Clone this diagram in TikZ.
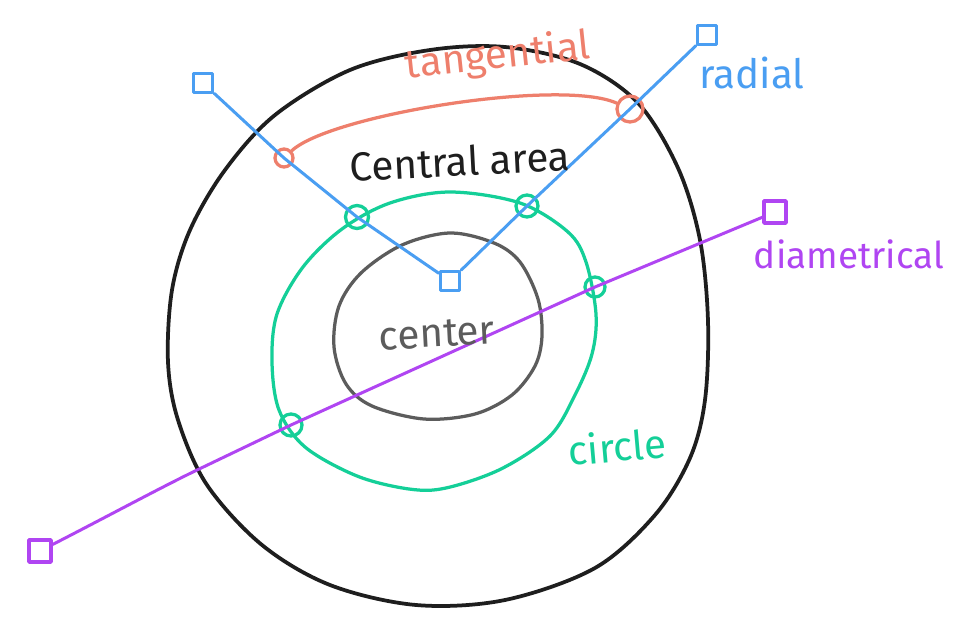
\documentclass[tikz,border=0pt]{standalone}
\usepackage{fontspec}
\setmainfont{Fira Sans}
\usepackage{tikz}
\usetikzlibrary{positioning}

\definecolor{inkblack}{HTML}{1E1E1E}
\definecolor{inkgray}{HTML}{5C5C5C}
\definecolor{inkblue}{HTML}{4A9EF2}
\definecolor{inksalmon}{HTML}{EE7F6C}
\definecolor{inkgreen}{HTML}{14CF98}
\definecolor{inkpurple}{HTML}{B045F2}

\tikzset{
  label text/.style={font=\fontsize{23}{27}\selectfont, inner sep=0pt},
  end box/.style={draw, rectangle, line width=0.7mm, minimum size=3.8mm, inner sep=0pt},
  cross mark/.style={draw, circle, line width=0.65mm, inner sep=0pt},
}

\begin{document}
\begin{tikzpicture}[x=0.2mm, y=-0.2mm, line cap=round, line join=round]
\useasboundingbox[fill=white] (0,0) rectangle (978,636);

% outer boundary
\draw[inkblack, line width=0.75mm] plot[smooth cycle, tension=0.55] coordinates {
  (505,47) (580,64) (638,103) (678,168) (700,240) (708,321) (705,400)
  (690,458) (655,515) (595,568) (505,600) (416,605) (330,585) (262,545)
  (207,485) (178,420) (168,362) (172,290) (190,230) (225,170) (275,115)
  (350,70) (430,50)};

% circle
\draw[inkgreen, line width=0.65mm] plot[smooth cycle, tension=0.55] coordinates {
  (450,192) (520,203) (568,232) (586,262) (596,314) (592,354) (575,395)
  (550,436) (501,469) (446,488) (409,489) (357,476) (305,447) (279,410)
  (272,362) (277,314) (303,267) (342,229) (390,203)};

% center
\draw[inkgray, line width=0.65mm] plot[smooth cycle, tension=0.55] coordinates {
  (450,233) (494,243) (520,262) (538,299) (542,336) (535,366) (512,395)
  (475,414) (424,419) (372,406) (346,384) (334,347) (339,306) (361,273)
  (402,245)};

% end boxes
\node[end box, inkblue] (sqL) at (203,83) {};
\node[end box, inkblue] (sqC) at (450,281) {};
\node[end box, inkblue] (sqR) at (707,35) {};
\node[end box, inkpurple, minimum size=4.4mm] (sqP1) at (40,551) {};
\node[end box, inkpurple, minimum size=4.4mm] (sqP2) at (775,212) {};

% crossing marks
\node[cross mark, inksalmon, minimum size=3.6mm] (tc1) at (284,158) {};
\node[cross mark, inksalmon, minimum size=5.2mm] (tc2) at (630,109) {};
\node[cross mark, inkgreen, minimum size=4.6mm] (gc1) at (357,217) {};
\node[cross mark, inkgreen, minimum size=4.4mm] (gc2) at (527,206) {};
\node[cross mark, inkgreen, minimum size=4.0mm] (gc3) at (595,287) {};
\node[cross mark, inkgreen, minimum size=4.4mm] (gc4) at (291,425) {};

% radial lines
\draw[inkblue, line width=0.6mm] (sqL) -- (tc1.center) -- (gc1.center) -- (sqC);
\draw[inkblue, line width=0.6mm] (sqC) -- (gc2.center) -- (tc2.center) -- (sqR);

% diametrical line
\draw[inkpurple, line width=0.6mm] (sqP1) .. controls (110,515) and (160,488) .. (195,471)
  -- (gc4.center) -- (gc3.center) -- (sqP2);

% tangential curve
\draw[inksalmon, line width=0.65mm] (tc1) .. controls (330,115) and (560,78) .. (tc2);

% labels
\node[label text, text=inksalmon, rotate=6] (tangential) at (498,57) {tangential};
\node[label text, text=inkblue] (radial) at (752,73) {radial};
\node[label text, text=inkblack, rotate=3] (central) at (460,161) {Central area};
\node[label text, text=inkpurple, font=\fontsize{21}{25}\selectfont] (diametrical) at (849,254) {diametrical};
\node[label text, text=inkgray, rotate=3] (centre) at (437,334) {center};
\node[label text, text=inkgreen, rotate=5] (circle) at (617,446) {circle};

\end{tikzpicture}
\end{document}
